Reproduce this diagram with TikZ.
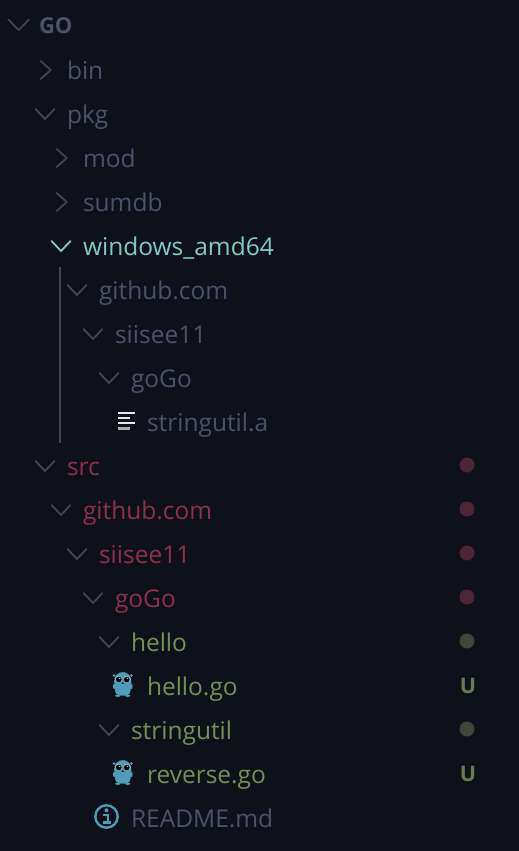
\documentclass[tikz,border=0pt]{standalone}
\usepackage{fontspec}
\setmainfont{Open Sans}
\definecolor{bgc}{HTML}{0F111A}
\definecolor{dim}{HTML}{4C516B}
\definecolor{chev}{HTML}{3F445A}
\definecolor{teal}{HTML}{80CBC4}
\definecolor{redt}{HTML}{8E3049}
\definecolor{greent}{HTML}{758F5A}
\definecolor{reddot}{HTML}{4E2535}
\definecolor{greendot}{HTML}{3E4739}
\definecolor{goblue}{HTML}{519ABA}
\tikzset{
  label/.style={anchor=base west,inner sep=0pt,outer sep=0pt,font=\fontsize{24.5}{26}\selectfont},
  chv/.style={line width=1.8pt,line cap=round,line join=round,draw=chev,fill=none},
  dot/.style={circle,inner sep=0pt,minimum size=15pt},
}
\newcommand{\dn}[3][chev]{\draw[chv,draw=#1] (#2-9.5,#3-5)--(#2,#3+5)--(#2+9.5,#3-5);}
\newcommand{\rt}[2]{\draw[chv] (#1-5,#2-9)--(#1+5,#2)--(#1-5,#2+9);}
\newcommand{\gopher}[2]{%
  \begin{scope}[shift={(#1,#2)}]
    \fill[goblue] (-8.6,-9) circle (1.5) (8.6,-9) circle (1.5);
    \fill[goblue] (-5,11.2) ellipse (2.6 and 1.1) (5,11.2) ellipse (2.6 and 1.1);
    \fill[goblue] (-8.6,-3) .. controls (-8.6,-15.5) and (8.6,-15.5) .. (8.6,-3) -- (7.6,7)
      .. controls (7.2,12.6) and (-7.2,12.6) .. (-7.6,7) -- cycle;
    \fill[goblue] (-8.6,2) ellipse (1.2 and 2.6) (8.6,2) ellipse (1.2 and 2.6);
    \fill[goblue!55!white] (-4.2,-5.2) circle (3.5) (4.2,-5.2) circle (3.5);
    \fill[black!85!bgc] (-4,-5) circle (2.9) (4,-5) circle (2.9);
    \fill[white] (-3,-6) circle (.6) (5,-6) circle (.6);
    \fill[black!85!bgc] (0,-1.2) ellipse (1.3 and .9);
  \end{scope}}
\begin{document}
\begin{tikzpicture}[x=1pt,y=-1pt]
\useasboundingbox (0,0) rectangle (519,851);
\fill[bgc] (0,0) rectangle (519,851);
% indent guide
\draw[line width=2pt,draw=chev] (60,267)--(60,443);
% chevrons
\draw[chv] (8.3,19.5)--(18.6,30)--(29,19.5);
\rt{45.7}{70}
\dn{45}{114}
\rt{61.7}{158}
\rt{61.7}{202}
\dn[teal]{61}{246}
\dn{77}{290}
\dn{93}{334}
\dn{109}{378}
\dn{45}{466}
\dn{61}{510}
\dn{77}{554}
\dn{93}{598}
\dn{109}{642}
\dn{109}{730}
% text
\node[label,text=dim,font=\fontsize{22}{24}\selectfont\bfseries] (go) at (39,34) {GO};
\node[label,text=dim] (bin) at (67,79.2) {bin};
\node[label,text=dim] (pkg) at (67,123.2) {pkg};
\node[label,text=dim] (mod) at (83,167.2) {mod};
\node[label,text=dim] (sumdb) at (83,211.2) {sumdb};
\node[label,text=teal] (win) at (83,255.2) {windows\_amd64};
\node[label,text=dim] (gh1) at (99,299.2) {github.com};
\node[label,text=dim] (si1) at (115,343.2) {siisee11};
\node[label,text=dim] (gg1) at (131,387.2) {goGo};
\node[label,text=dim] (sa) at (147,431.2) {stringutil.a};
\node[label,text=redt] (src) at (67,475.2) {src};
\node[label,text=redt] (gh2) at (83,519.2) {github.com};
\node[label,text=redt] (si2) at (99,563.2) {siisee11};
\node[label,text=redt] (gg2) at (115,607.2) {goGo};
\node[label,text=greent] (hello) at (131,651.2) {hello};
\node[label,text=greent] (hgo) at (147,695.2) {hello.go};
\node[label,text=greent] (su) at (131,739.2) {stringutil};
\node[label,text=greent] (rgo) at (147,783.2) {reverse.go};
\node[label,text=dim] (readme) at (131,827.2) {README.md};
% file icon
\draw[line width=2.2pt,draw=white!90!bgc] (118,413)--(135,413) (118,418)--(130,418) (118,423)--(135,423);
\draw[line width=2.2pt,draw=white!65!bgc] (118,428.5)--(130,428.5);
% gophers
\gopher{122.8}{684.5}
\gopher{122.8}{772.5}
% info icon
\draw[line width=2.4pt,draw=goblue] (106.5,816.5) circle (11.2);
\fill[goblue] (106.5,810.3) circle (2);
\draw[line width=2.6pt,draw=goblue] (103,815)--(107.8,815)--(107.8,822.5) (102.8,822.5)--(111,822.5);
% status
\node[dot,fill=reddot] (d1) at (467,465) {};
\node[dot,fill=reddot] (d2) at (467,509) {};
\node[dot,fill=reddot] (d3) at (467,553) {};
\node[dot,fill=reddot] (d4) at (467,597) {};
\node[dot,fill=greendot] (d5) at (467,641) {};
\node[dot,fill=greendot] (d6) at (467,729) {};
\node[anchor=base,inner sep=0pt,text=greent!85!bgc,font=\fontsize{21.5}{23}\selectfont\bfseries] (u1) at (468,693.5) {U};
\node[anchor=base,inner sep=0pt,text=greent!85!bgc,font=\fontsize{21.5}{23}\selectfont\bfseries] (u2) at (468,781.5) {U};
\end{tikzpicture}
\end{document}
